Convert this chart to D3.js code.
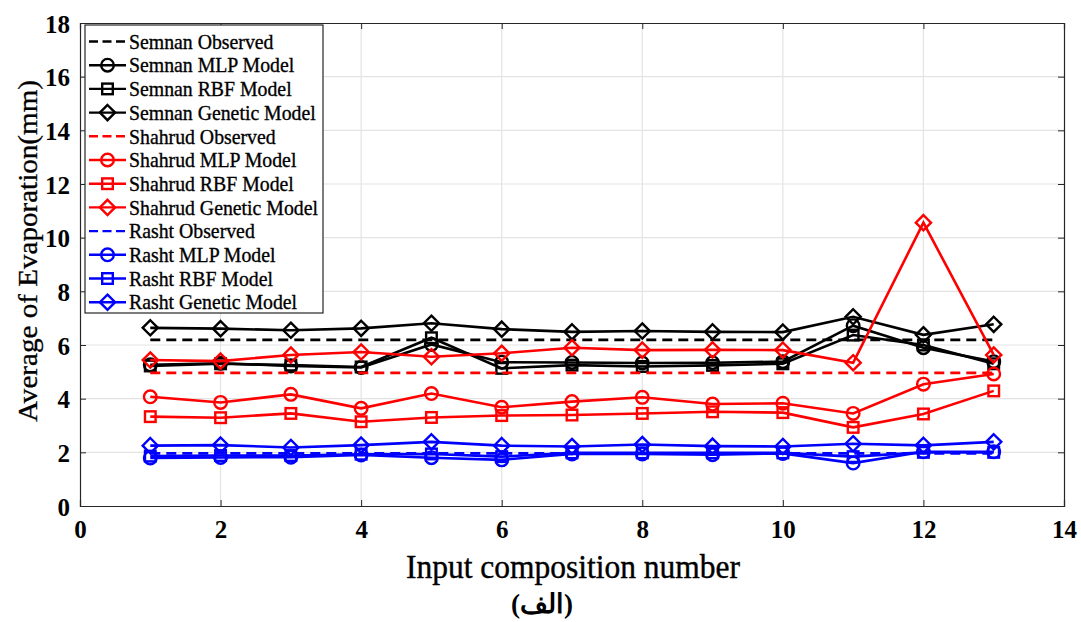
<!DOCTYPE html>
<html>
<head>
<meta charset="utf-8">
<script src="https://cdn.jsdelivr.net/npm/d3@7"></script>
<style>
  html, body { margin: 0; padding: 0; background: #fff; }
  svg text { font-family: "Liberation Serif", "Times New Roman", serif; fill: #000; }
</style>
</head>
<body>
<svg id="chart" width="1081" height="622"></svg>
<script>
// 입력 조합 번호
const composition = [1, 2, 3, 4, 5, 6, 7, 8, 9, 10, 11, 12, 13];

// Semnan
const semnanObserved = [6.19, 6.19, 6.19, 6.19, 6.19, 6.19, 6.19, 6.19, 6.19, 6.19, 6.19, 6.19, 6.19];
const semnanMLP      = [5.26, 5.32, 5.22, 5.16, 6.02, 5.36, 5.35, 5.33, 5.34, 5.38, 6.72, 5.90, 5.38];
const semnanRBF      = [5.22, 5.30, 5.25, 5.18, 6.27, 5.13, 5.25, 5.20, 5.24, 5.30, 6.37, 6.00, 5.30];
const semnanGenetic  = [6.64, 6.61, 6.55, 6.62, 6.81, 6.59, 6.49, 6.52, 6.49, 6.48, 7.05, 6.38, 6.77];

// Shahrud
const shahrudObserved = [4.96, 4.96, 4.96, 4.96, 4.96, 4.96, 4.96, 4.96, 4.96, 4.96, 4.96, 4.96, 4.96];
const shahrudMLP      = [4.07, 3.86, 4.16, 3.64, 4.19, 3.68, 3.89, 4.05, 3.80, 3.83, 3.45, 4.54, 4.92];
const shahrudRBF      = [3.33, 3.29, 3.45, 3.14, 3.30, 3.37, 3.39, 3.45, 3.51, 3.48, 2.93, 3.43, 4.29];
const shahrudGenetic  = [5.44, 5.40, 5.63, 5.74, 5.56, 5.69, 5.90, 5.81, 5.82, 5.81, 5.34, 10.56, 5.63];

// Rasht
const rashtObserved = [1.96, 1.96, 1.96, 1.96, 1.96, 1.96, 1.96, 1.96, 1.96, 1.96, 1.96, 1.96, 1.96];
const rashtMLP      = [1.79, 1.81, 1.82, 1.90, 1.80, 1.72, 1.94, 1.94, 1.91, 1.96, 1.60, 2.02, 2.02];
const rashtRBF      = [1.86, 1.88, 1.88, 1.93, 1.94, 1.84, 1.98, 1.98, 1.98, 1.98, 1.84, 2.00, 2.00];
const rashtGenetic  = [2.25, 2.27, 2.18, 2.27, 2.39, 2.25, 2.22, 2.29, 2.23, 2.22, 2.32, 2.26, 2.39];

const xTicks = [0, 2, 4, 6, 8, 10, 12, 14];
const yTicks = [0, 2, 4, 6, 8, 10, 12, 14, 16, 18];

const series = [
  { name: 'Semnan Observed',      values: semnanObserved,  color: '#000000', marker: 'none',    dashed: true },
  { name: 'Semnan MLP Model',     values: semnanMLP,       color: '#000000', marker: 'circle' },
  { name: 'Semnan RBF Model',     values: semnanRBF,       color: '#000000', marker: 'square' },
  { name: 'Semnan Genetic Model', values: semnanGenetic,   color: '#000000', marker: 'diamond' },
  { name: 'Shahrud Observed',     values: shahrudObserved, color: '#ff0000', marker: 'none',    dashed: true },
  { name: 'Shahrud MLP Model',    values: shahrudMLP,      color: '#ff0000', marker: 'circle' },
  { name: 'Shahrud RBF Model',    values: shahrudRBF,      color: '#ff0000', marker: 'square' },
  { name: 'Shahrud Genetic Model',values: shahrudGenetic,  color: '#ff0000', marker: 'diamond' },
  { name: 'Rasht Observed',       values: rashtObserved,   color: '#0000ff', marker: 'none',    dashed: true },
  { name: 'Rasht MLP Model',      values: rashtMLP,        color: '#0000ff', marker: 'circle' },
  { name: 'Rasht RBF Model',      values: rashtRBF,        color: '#0000ff', marker: 'square' },
  { name: 'Rasht Genetic Model',  values: rashtGenetic,    color: '#0000ff', marker: 'diamond' }
];

const margin = { left: 80, right: 17, top: 23, bottom: 116 };
const width = 1081, height = 622;
const plotW = width - margin.left - margin.right;
const plotH = height - margin.top - margin.bottom;

const svg = d3.select('#chart');
const g = svg.append('g').attr('transform', `translate(${margin.left},${margin.top})`);

const x = d3.scaleLinear().domain([0, 14]).range([0, plotW]);
const y = d3.scaleLinear().domain([0, 18]).range([plotH, 0]);

// 그리드
g.append('g').selectAll('line').data(xTicks.slice(1, -1)).join('line')
  .attr('x1', d => x(d)).attr('x2', d => x(d))
  .attr('y1', 0).attr('y2', plotH)
  .attr('stroke', '#e3e3e3').attr('stroke-width', 1.2);
g.append('g').selectAll('line').data(yTicks.slice(1, -1)).join('line')
  .attr('x1', 0).attr('x2', plotW)
  .attr('y1', d => y(d)).attr('y2', d => y(d))
  .attr('stroke', '#e3e3e3').attr('stroke-width', 1.2);

// 축
const xAxis = g.append('g').attr('transform', `translate(0,${plotH})`)
  .call(d3.axisBottom(x).tickValues(xTicks).tickSize(-6).tickPadding(14).tickFormat(d3.format('d')));
const yAxis = g.append('g')
  .call(d3.axisLeft(y).tickValues(yTicks).tickSize(-6).tickPadding(10).tickFormat(d3.format('d')));
g.append('g').call(d3.axisTop(x).tickValues(xTicks).tickSize(-6).tickFormat(''));
g.append('g').attr('transform', `translate(${plotW},0)`)
  .call(d3.axisRight(y).tickValues(yTicks).tickSize(-6).tickFormat(''));

g.selectAll('.domain').attr('stroke', '#262626').attr('stroke-width', 1.2);
g.selectAll('.tick line').attr('stroke', '#262626');
[xAxis, yAxis].forEach(a => a.selectAll('text')
  .style('font-family', '"Liberation Serif", serif')
  .style('font-size', '25px').style('font-weight', 'bold').attr('fill', '#262626'));
yAxis.selectAll('text').attr('dy', '0.36em');

// 라인
const line = d3.line().x((d, i) => x(composition[i])).y(d => y(d));

const plotLayer = g.append('g');

function drawMarker(sel, type, color) {
  if (type === 'circle') {
    sel.append('circle').attr('r', 6.3);
  } else if (type === 'square') {
    sel.append('rect').attr('x', -5.3).attr('y', -5.3).attr('width', 10.6).attr('height', 10.6);
  } else if (type === 'diamond') {
    const s = 7.6;
    sel.append('path').attr('d', `M0,${-s}L${s},0L0,${s}L${-s},0Z`);
  }
  sel.selectAll('circle,rect,path').attr('fill', 'none').attr('stroke', color).attr('stroke-width', 2.4);
}

series.forEach(s => {
  const sg = plotLayer.append('g');
  sg.append('path').datum(s.values)
    .attr('d', line)
    .attr('fill', 'none')
    .attr('stroke', s.color)
    .attr('stroke-width', 2.6)
    .attr('stroke-dasharray', s.dashed ? '10,6' : null);
  if (s.marker !== 'none') {
    sg.selectAll('g.m').data(s.values).join('g').attr('class', 'm')
      .attr('transform', (d, i) => `translate(${x(composition[i])},${y(d)})`)
      .each(function () { drawMarker(d3.select(this), s.marker, s.color); });
  }
});

// 범례
const lg = g.append('g').attr('transform', 'translate(5,2)');
const rowH = 23.7;
lg.append('rect').attr('x', 0).attr('y', 0).attr('width', 238).attr('height', 288)
  .attr('fill', '#fff').attr('stroke', '#262626').attr('stroke-width', 1.2);
series.forEach((s, i) => {
  const cy = 16.5 + i * rowH;
  const row = lg.append('g').attr('transform', `translate(0,${cy})`);
  row.append('line').attr('x1', 4).attr('x2', 41).attr('y1', 0).attr('y2', 0)
    .attr('stroke', s.color).attr('stroke-width', 2.4)
    .attr('stroke-dasharray', s.dashed ? '9,4.5' : null);
  if (s.marker !== 'none') {
    const mg = row.append('g').attr('transform', 'translate(22.5,0)');
    drawMarker(mg, s.marker, s.color);
  }
  // 세로로 약간 늘어난 글꼴 모양
  row.append('text').attr('transform', 'translate(44,0) scale(0.9,1)')
    .attr('dy', '0.33em')
    .style('font-size', '22px')
    .attr('stroke', '#000').attr('stroke-width', 0.35)
    .text(s.name);
});

// 축 제목
svg.append('text')
  .attr('transform', 'translate(37,251) rotate(-90)')
  .attr('text-anchor', 'middle')
  .attr('textLength', 342).attr('lengthAdjust', 'spacingAndGlyphs')
  .style('font-size', '28px')
  .attr('stroke', '#000').attr('stroke-width', 0.3)
  .text('Average of Evaporation(mm)');

svg.append('text')
  .attr('x', 573).attr('y', 578)
  .attr('text-anchor', 'middle')
  .attr('textLength', 334).attr('lengthAdjust', 'spacingAndGlyphs')
  .style('font-size', '33px')
  .attr('stroke', '#000').attr('stroke-width', 0.4)
  .text('Input composition number');

svg.append('text')
  .attr('x', 542).attr('y', 613)
  .attr('text-anchor', 'middle')
  .style('font-size', '27px').style('font-weight', 'bold')
  .text('(الف)');
</script>
</body>
</html>
